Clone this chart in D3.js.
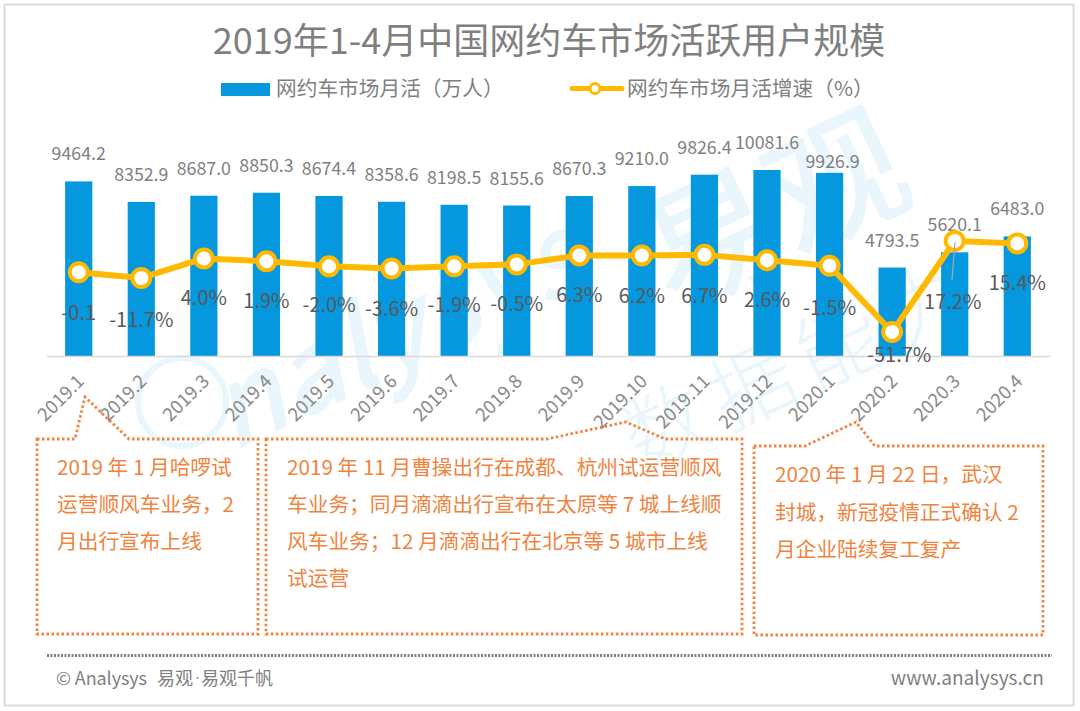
<!DOCTYPE html>
<html>
<head>
<meta charset="utf-8">
<script src="https://cdn.jsdelivr.net/npm/d3@7/dist/d3.min.js"></script>
<style>
  html, body { margin: 0; padding: 0; background: #fff; }
  svg text { font-family: "Noto Sans CJK SC", "Noto Sans", sans-serif; }
</style>
</head>
<body>
<svg id="chart" width="1080" height="711"></svg>
<script>
const months = ["2019.1","2019.2","2019.3","2019.4","2019.5","2019.6","2019.7","2019.8","2019.9","2019.10","2019.11","2019.12","2020.1","2020.2","2020.3","2020.4"];
const activeUsers = [9464.2,8352.9,8687.0,8850.3,8674.4,8358.6,8198.5,8155.6,8670.3,9210.0,9826.4,10081.6,9926.9,4793.5,5620.1,6483.0];
// the first two markers sit off their printed values, so plotted and printed are kept apart
const growthPlotted = [-6.5,-10.8,4.0,1.9,-2.0,-3.6,-1.9,-0.5,6.3,6.2,6.7,2.6,-1.5,-51.7,17.2,15.4];
const growthLabels = ["-0.1","-11.7%","4.0%","1.9%","-2.0%","-3.6%","-1.9%","-0.5%","6.3%","6.2%","6.7%","2.6%","-1.5%","-51.7%","17.2%","15.4%"];

const titleText = "2019年1-4月中国网约车市场活跃用户规模";
const barLegend = "网约车市场月活（万人）";
const lineLegend = "网约车市场月活增速（%）";
const note1 = ["2019 年 1 月哈啰试", "运营顺风车业务，2", "月出行宣布上线"];
const note2 = ["2019 年 11 月曹操出行在成都、杭州试运营顺风", "车业务；同月滴滴出行宣布在太原等 7 城上线顺", "风车业务；12 月滴滴出行在北京等 5 城市上线", "试运营"];
const note3 = ["2020 年 1 月 22 日，武汉", "封城，新冠疫情正式确认 2", "月企业陆续复工复产"];

const svg = d3.select("#chart");
const blue = "#0598df", yellow = "#ffb900", orange = "#ef8440";

const x = d3.scaleBand().domain(months).range([46.5, 1049.5]).paddingInner(0.565).paddingOuter(0.2975);
const y = d3.scaleLinear().domain([0, 10081.6]).range([356, 170]);
const yGrowth = d3.scaleLinear().domain([-51.7, 17.2]).range([332, 241]);
const cx = d => x(d) + x.bandwidth() / 2;

// frame
svg.append("rect").attr("x", 4.5).attr("y", 4.5).attr("width", 1069).attr("height", 701)
  .attr("fill", "#fff").attr("stroke", "#dcdcdc").attr("stroke-width", 2);

// watermark
const wm = svg.append("g").attr("fill", "#e9f6fc");
wm.append("circle").attr("cx", 182).attr("cy", 402).attr("r", 44)
  .attr("fill", "none").attr("stroke", "#e9f6fc").attr("stroke-width", 6);
wm.append("text").attr("transform", "translate(232,452) rotate(-25)")
  .attr("font-size", 112).attr("font-style", "italic").attr("font-weight", 500).text("nalysys");
wm.append("text").attr("transform", "translate(672,312) rotate(-25)")
  .attr("font-size", 136).attr("font-weight", 500).text("易观");
wm.append("text").attr("transform", "translate(640,472) rotate(-25)")
  .attr("font-size", 84).attr("font-weight", 300).attr("letter-spacing", 12).text("数据能力");

// title + legend
svg.append("text").attr("x", 549).attr("y", 54).attr("text-anchor", "middle")
  .attr("font-size", 36).attr("fill", "#7f7f7f").text(titleText);
svg.append("rect").attr("x", 221).attr("y", 83).attr("width", 49).attr("height", 13).attr("fill", blue);
svg.append("text").attr("x", 276).attr("y", 96).attr("font-size", 20.7).attr("fill", "#7f7f7f").text(barLegend);
svg.append("line").attr("x1", 572).attr("x2", 622).attr("y1", 88.5).attr("y2", 88.5)
  .attr("stroke", yellow).attr("stroke-width", 5).attr("stroke-linecap", "round");
svg.append("circle").attr("cx", 595).attr("cy", 88.5).attr("r", 5).attr("fill", "#fff")
  .attr("stroke", yellow).attr("stroke-width", 3);
svg.append("text").attr("x", 627).attr("y", 96).attr("font-size", 20.7).attr("fill", "#7f7f7f").text(lineLegend);

// bars
svg.append("g").selectAll("rect").data(months).join("rect")
  .attr("x", d => x(d)).attr("width", x.bandwidth())
  .attr("y", (d, i) => y(activeUsers[i]))
  .attr("height", (d, i) => y(0) - y(activeUsers[i]))
  .attr("fill", blue);

// x axis
const axis = svg.append("g").attr("transform", "translate(0,356)")
  .call(d3.axisBottom(x).tickSize(0).tickPadding(0));
axis.select(".domain").attr("stroke", "#d9d9d9").attr("stroke-width", 1.5);
axis.selectAll("text")
  .attr("font-size", 18.5).attr("fill", "#8a8a8a").attr("text-anchor", "end")
  .attr("transform", "translate(2,22) rotate(-45)").attr("dy", "0.35em");

// bar value labels, 2020.1 was dragged down next to its neighbour in the original
svg.append("g").selectAll("text").data(months).join("text")
  .attr("x", d => cx(d) + (d === "2020.1" ? 3 : 0))
  .attr("y", (d, i) => y(activeUsers[i]) - (d === "2020.1" ? 5 : 21))
  .attr("text-anchor", "middle").attr("font-size", 17.8).attr("fill", "#7f7f7f")
  .text((d, i) => activeUsers[i].toFixed(1));

// growth line
const line = d3.line().x(d => cx(d)).y(d => yGrowth(growthPlotted[months.indexOf(d)]));
svg.append("path").attr("d", line(months)).attr("fill", "none")
  .attr("stroke", yellow).attr("stroke-width", 6).attr("stroke-linejoin", "round");
svg.append("g").selectAll("circle").data(months).join("circle")
  .attr("cx", cx).attr("cy", (d, i) => yGrowth(growthPlotted[i])).attr("r", 9)
  .attr("fill", "#fff").attr("stroke", yellow).attr("stroke-width", 4);

// leader line for 17.2%
svg.append("line").attr("x1", 955).attr("y1", 242).attr("x2", 952).attr("y2", 280)
  .attr("stroke", "#a6a6a6").attr("stroke-width", 1.2);

// growth labels, hand placed like the original
const growthDx = [0,0,0,0,0,0,0,0,0,0,0,0,0,7,-2,0];
const growthDy = [48,49,47,47,46,48,46,47,47,47,48,47,49,30,68,47];
svg.append("g").selectAll("text").data(months).join("text")
  .attr("x", (d, i) => cx(d) + growthDx[i])
  .attr("y", (d, i) => yGrowth(growthPlotted[i]) + growthDy[i])
  .attr("text-anchor", "middle").attr("font-size", 20).attr("fill", "#595959")
  .text((d, i) => growthLabels[i]);

// callouts
const outline = d3.line();
function callout(points, lines, tx, ty, size, lh) {
  svg.append("path").attr("d", outline(points) + "Z").attr("fill", "none")
    .attr("stroke", orange).attr("stroke-width", 2.8).attr("stroke-dasharray", "2.5 2.5");
  svg.append("g").selectAll("text").data(lines).join("text")
    .attr("x", tx).attr("y", (d, i) => ty + i * lh)
    .attr("font-size", size).attr("fill", orange).text(d => d);
}
callout([[37,439],[75,439],[85,397],[129,439],[258,439],[258,634],[37,634]], note1, 57, 475, 20.7, 37);
callout([[266,439],[547,439],[626,422],[665,439],[742,439],[742,634],[266,634]], note2, 287, 475, 20.7, 37);
callout([[754,446],[805,446],[856,422],[875,446],[1043,446],[1043,635],[754,635]], note3, 775, 482, 20.7, 37.5);

// footer
svg.append("line").attr("x1", 47).attr("x2", 1052).attr("y1", 655.5).attr("y2", 655.5)
  .attr("stroke", "#7f7f7f").attr("stroke-width", 3).attr("stroke-dasharray", "2 1.5");
const footer = svg.append("g").attr("fill", "#7f7f7f");
footer.append("text").attr("x", 56).attr("y", 685).attr("font-size", 18).attr("textLength", 91).text("© Analysys");
footer.append("text").attr("x", 157).attr("y", 685).attr("font-size", 18).text("易观");
footer.append("text").attr("x", 194).attr("y", 680).attr("font-size", 7).attr("font-weight", 700).text("·");
footer.append("text").attr("x", 201).attr("y", 685).attr("font-size", 18).text("易观千帆");
svg.append("text").attr("x", 1044).attr("y", 685).attr("text-anchor", "end").attr("font-size", 19.1).attr("fill", "#7f7f7f").text("www.analysys.cn");
</script>
</body>
</html>
